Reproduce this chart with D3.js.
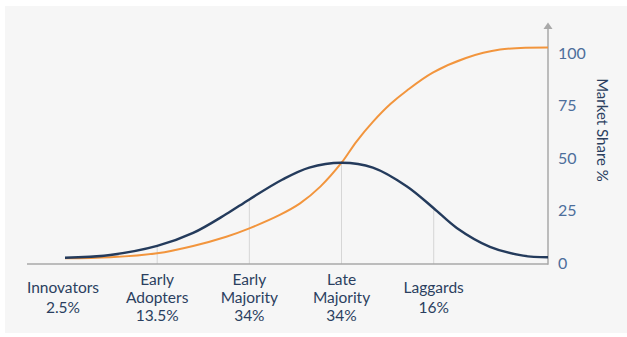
<!DOCTYPE html>
<html><head><meta charset="utf-8">
<script src="https://cdn.jsdelivr.net/npm/d3@7/dist/d3.min.js"></script>
<style>html,body{margin:0;padding:0;background:#fff;}svg{display:block;}</style>
</head><body>
<script>
// Category labels (positioned at x = 0..4 on the adoption axis)
const categories = ["Innovators", "Early Adopters", "Early Majority", "Late Majority", "Laggards"];
const categoryLines = [["Innovators","2.5%"],["Early","Adopters","13.5%"],["Early","Majority","34%"],["Late","Majority","34%"],["Laggards","16%"]];
const categoryPos = [0, 1, 2, 3, 4];
// Adoption (bell) curve
const bellX = [0, 0.49, 1.0, 1.39, 1.75, 2.0, 2.36, 2.65, 3.0, 3.34, 3.71, 4.0, 4.25, 4.61, 4.97, 5.24];
const bellY = [2.2, 3.5, 7.8, 14.0, 23.0, 30.0, 39.5, 45.2, 47.5, 45.2, 36.2, 25.8, 16.4, 7.4, 3.2, 2.4];
// Market share (S) curve
const shareX = [0, 0.49, 1.0, 1.39, 1.75, 2.0, 2.33, 2.55, 2.77, 3.0, 3.16, 3.34, 3.53, 3.71, 3.99, 4.35, 4.72, 5.24];
const shareY = [1.9, 2.4, 4.3, 7.8, 12.2, 16.2, 22.6, 28.1, 36.1, 47.5, 57.5, 67.0, 75.5, 82.0, 90.5, 97.5, 101.5, 102.5];
// Gridlines at category boundaries, up to the bell curve
const gridPos = [1, 2, 3, 4];
const gridVal = [7.8, 30.0, 47.5, 25.8];
const yTicks = [0, 25, 50, 75, 100];

const W = 627, H = 337;
const svg = d3.select("body").append("svg").attr("width", W).attr("height", H);
svg.append("rect").attr("x", 5).attr("y", 6).attr("width", W - 5).attr("height", 327).attr("fill", "#f6f6f6");

const x = d3.scaleLinear().domain([0, 5.24]).range([65, 548]);
const y = d3.scaleLinear().domain([0, 100]).range([262.3, 52.7]);
const axisY = 264;
const axisColor = "#a9a9a9";

// gridlines
svg.append("g").selectAll("line").data(gridPos).join("line")
  .attr("x1", d => x(d)).attr("x2", d => x(d))
  .attr("y1", axisY).attr("y2", (d, i) => y(gridVal[i]))
  .attr("stroke", "#d6d6d6").attr("stroke-width", 1);

// x axis line
svg.append("line").attr("x1", 27).attr("x2", x(5.24)).attr("y1", axisY).attr("y2", axisY)
  .attr("stroke", axisColor).attr("stroke-width", 1.5);
// y axis with arrow
const ax = x(5.24);
svg.append("line").attr("x1", ax).attr("x2", ax).attr("y1", axisY + 0.75).attr("y2", 27)
  .attr("stroke", axisColor).attr("stroke-width", 1.5);
svg.append("path").attr("d", `M${ax - 4.5},29 L${ax},22.5 L${ax + 4.5},29 Z`).attr("fill", axisColor);

// y axis tick labels via d3 axis
const yAxis = d3.axisRight(y).tickValues(yTicks).tickSize(0).tickPadding(10);
const gY = svg.append("g").attr("transform", `translate(${ax},0)`).call(yAxis);
gY.select(".domain").remove();
gY.selectAll("text").attr("font-family", "Lato, sans-serif").attr("font-size", 16)
  .attr("fill", "#4d6e9b").attr("dy", "0.36em");

// axis title
svg.append("text").attr("transform", "translate(597,130) rotate(90)")
  .attr("text-anchor", "middle").attr("font-family", "Lato, sans-serif").attr("font-size", 15)
  .attr("fill", "#2b3f60").text("Market Share %");

// curves
const line = d3.line().x(d => x(d[0])).y(d => y(d[1])).curve(d3.curveCatmullRom.alpha(0.5));
svg.append("path").datum(shareX.map((v, i) => [v, shareY[i]])).attr("d", line)
  .attr("fill", "none").attr("stroke", "#f2953d").attr("stroke-width", 2);
svg.append("path").datum(bellX.map((v, i) => [v, bellY[i]])).attr("d", line)
  .attr("fill", "none").attr("stroke", "#243b5c").attr("stroke-width", 2.4);

// category labels
const gL = svg.append("g").attr("font-family", "Lato, sans-serif").attr("font-size", 15.5)
  .attr("fill", "#2b3f60").attr("text-anchor", "middle");
categoryLines.forEach((lines, i) => {
  const lh = lines.length === 3 ? 17.6 : 19.5;
  const cy = 297.6;
  const cx = x(categoryPos[i]) - (i === 0 ? 2 : 0);
  const t = gL.append("text").attr("x", cx);
  lines.forEach((s, j) => {
    t.append("tspan").attr("x", cx)
      .attr("y", cy + (j - (lines.length - 1) / 2) * lh).attr("dy", "0.35em").text(s);
  });
});
</script>
</body></html>
